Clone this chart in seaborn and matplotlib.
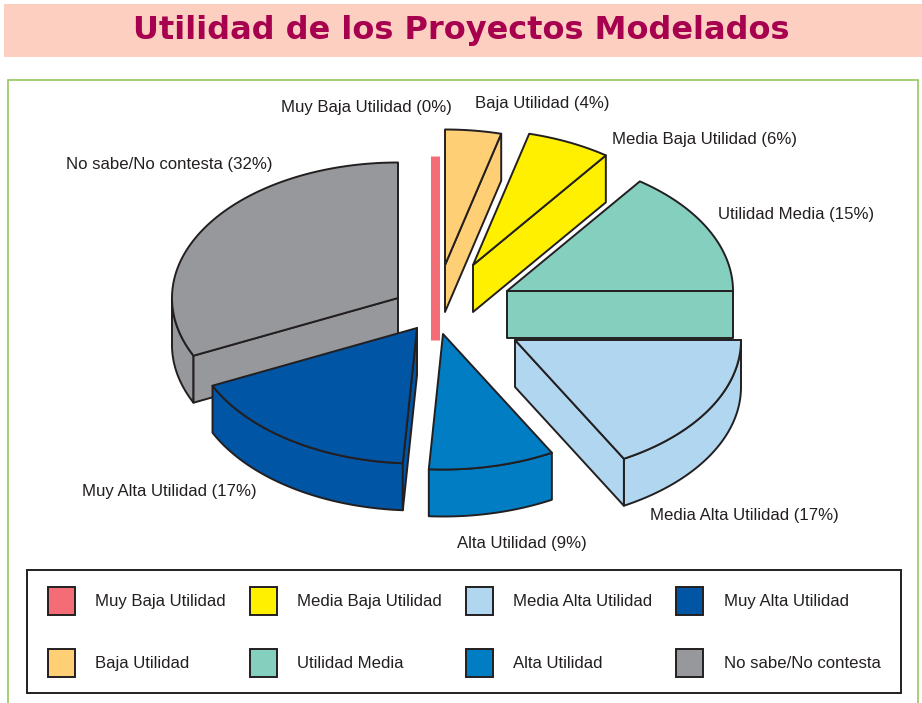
import numpy as np
import matplotlib
matplotlib.use("Agg")
import matplotlib.pyplot as plt
from matplotlib.patches import Patch, Rectangle
import seaborn as sns

# ---- data ----
categories = ["Muy Baja Utilidad", "Baja Utilidad", "Media Baja Utilidad", "Utilidad Media",
              "Media Alta Utilidad", "Alta Utilidad", "Muy Alta Utilidad", "No sabe/No contesta"]
values = [0, 4, 6, 15, 17, 9, 17, 32]
title = "Utilidad de los Proyectos Modelados"

# ---- style ----
hex_colors = ["#F46C75", "#FFCF76", "#FFF000", "#85CFBE", "#B1D6F0", "#007DC3", "#0055A5", "#97989B"]
INK = "#231F20"
TEXT_SIZE = 12.05
sns.set_theme(style="white")
plt.rcParams["font.family"] = ["Liberation Sans", "DejaVu Sans"]
palette = sns.color_palette(hex_colors)

# ---- layout (pixels) ----
RX, RY, DEPTH = 226, 135.5, 47
apex = [(435, 292), (445, 265), (473, 265), (507, 291), (515, 340), (443, 334), (417, 328), (398, 298)]
label_pos = [(452, 107.4, "right"), (475, 103.4, "left"), (612, 139.4, "left"), (718, 214, "left"),
             (650, 515.4, "left"), (457, 543.4, "left"), (82, 491.4, "left"), (66, 164, "left")]
draw_order = [0, 1, 2, 3, 7, 4, 5, 6]

fig = plt.figure(figsize=(9.22, 7.03), dpi=100)
ax = fig.add_axes([0, 0, 1, 1])
ax.set_xlim(0, 922)
ax.set_ylim(703, 0)
ax.axis("off")

# header band and green frame
ax.add_patch(Rectangle((4, 4), 918, 53, fc="#FCCFC0", ec="none"))
ax.text(461.5, 39, title, ha="center", va="baseline", color="#A6004F",
        fontsize=23, fontweight="bold", family="DejaVu Sans")
ax.plot([7.5, 7.5, 918, 918], [704, 80, 80, 704], color="#95C85F", lw=1.2, solid_joinstyle="miter")


def rim(theta, c):
    return c[0] + RX * np.sin(theta), c[1] - RY * np.cos(theta)


def face(xs, ys, color):
    ax.fill(xs, ys, facecolor=color, edgecolor=INK, lw=1.4, joinstyle="round")


cum = np.cumsum([0] + values)
for i in draw_order:
    c = apex[i]
    col = palette[i]
    a, b = np.radians(3.6 * cum[i]), np.radians(3.6 * cum[i + 1])
    if values[i] == 0:
        # a zero share only shows as a thin upright sliver
        ax.plot([c[0], c[0]], [c[1] - RY - 1, c[1] + DEPTH + 1], color=col, lw=6.5, solid_capstyle="butt")
        continue
    # outer wall (front half of the rim)
    lo, hi = max(a, np.pi / 2), min(b, 3 * np.pi / 2)
    if hi > lo:
        t = np.linspace(lo, hi, 80)
        x, y = rim(t, c)
        face(np.r_[x, x[::-1]], np.r_[y, y[::-1] + DEPTH], col)
    # radial walls that face the viewer
    for ang, visible in ((a, np.sin(a) < -1e-6), (b, np.sin(b) > 1e-6)):
        if visible:
            x, y = rim(ang, c)
            face([c[0], x, x, c[0]], [c[1], y, y + DEPTH, c[1] + DEPTH], col)
    # top face
    t = np.linspace(a, b, 120)
    x, y = rim(t, c)
    face(np.r_[c[0], x], np.r_[c[1], y], col)

# slice labels
for name, v, (lx, ly, ha) in zip(categories, values, label_pos):
    ax.text(lx, ly, f"{name} ({v}%)", ha=ha, va="center", fontsize=TEXT_SIZE, color=INK)

# legend: box drawn separately so its padding can differ per side
ax.add_patch(Rectangle((27, 570), 874, 123, fc="white", ec=INK, lw=1.4))
handles = [Patch(facecolor=c, edgecolor=INK, lw=1.4, label=n) for c, n in zip(palette, categories)]
leg = ax.legend(handles=handles, ncol=4, loc="upper left", bbox_to_anchor=(48, 587),
                bbox_transform=ax.transData, borderaxespad=0, fontsize=TEXT_SIZE,
                frameon=False, handlelength=1.62, handleheight=2.21, handletextpad=1.2,
                labelspacing=2.0, columnspacing=1.44, borderpad=0, labelcolor=INK)

fig.savefig("out.png", dpi=100)
